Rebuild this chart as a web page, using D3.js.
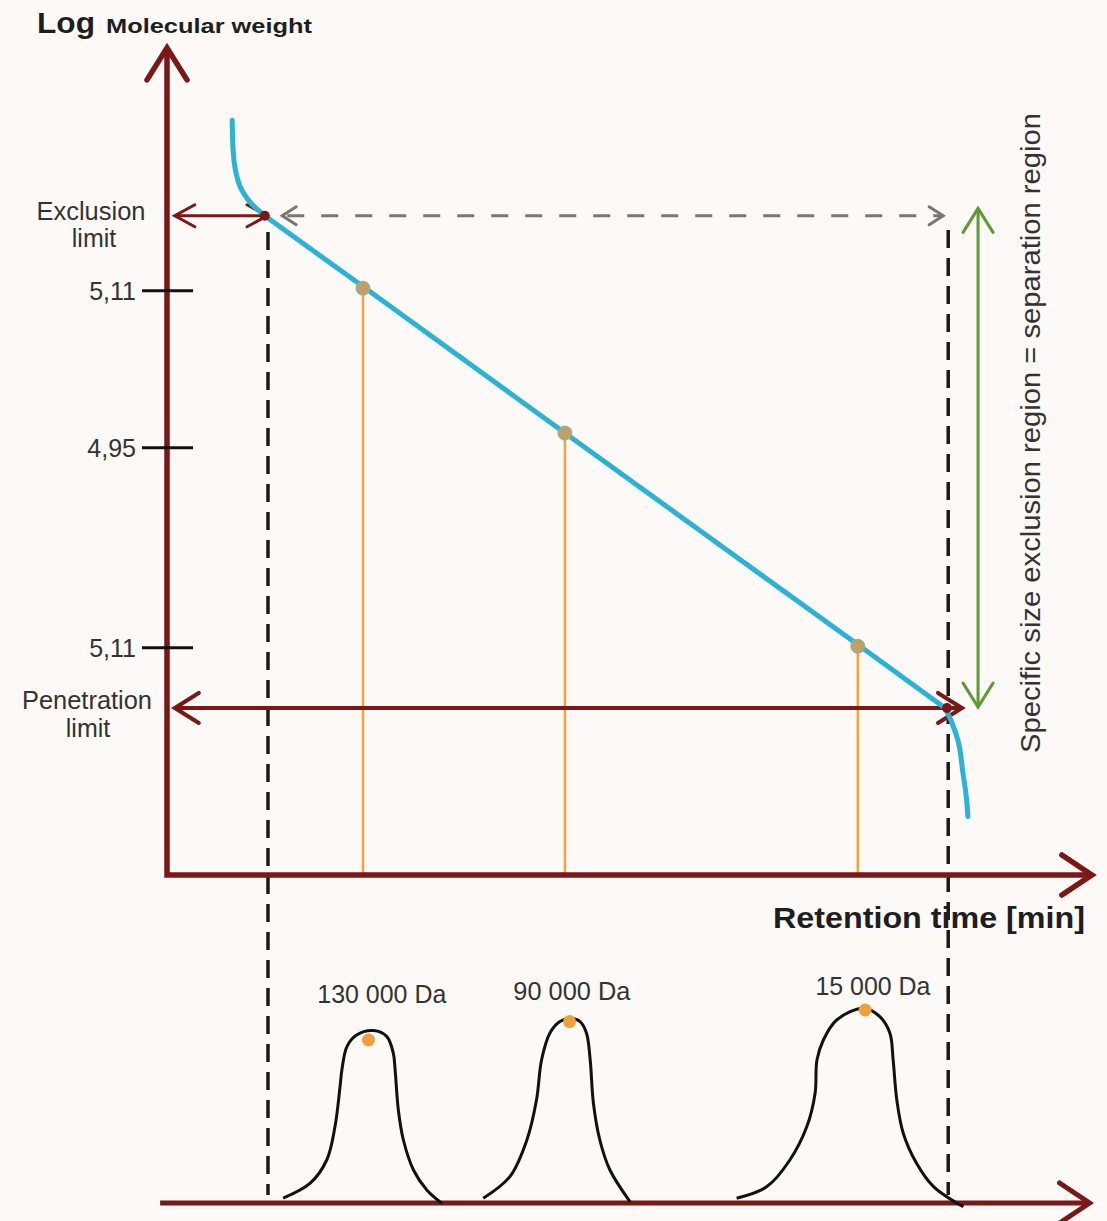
<!DOCTYPE html>
<html>
<head>
<meta charset="utf-8">
<script src="https://cdn.jsdelivr.net/npm/d3@7"></script>
<style>
  html, body { margin: 0; padding: 0; background: #fcf9f7; }
  svg { display: block; }
  text { font-family: "Liberation Sans", Arial, sans-serif; }
</style>
</head>
<body>
<svg id="chart" width="1107" height="1221"></svg>
<script>
// ---------- DATA ----------
// Calibration curve: retention time (arbitrary min) vs log molecular weight (arbitrary units)
const calibX = [1.42, 1.44, 1.50, 1.63, 1.85, 2.13, 2.90, 4.27, 8.67, 15.10, 16.95, 17.10, 17.23, 17.34, 17.41, 17.45];
const calibY = [9.17, 8.81, 8.54, 8.32, 8.15, 8.01, 7.70, 7.15, 5.37, 2.78, 2.03, 1.85, 1.64, 1.24, 0.97, 0.71];
const exclusionIndex = 5;    // start of linear (separation) region
const penetrationIndex = 10; // end of linear (separation) region

// Standards placed on the calibration line
const sampleX = [4.27, 8.67, 15.05];
const sampleY = [7.13, 5.37, 2.78];
const sampleLabels = ["130 000 Da", "90 000 Da", "15 000 Da"];

// Y ticks (labels as printed in the figure)
const tickValues = [7.10, 5.19, 2.76];
const tickLabels = ["5,11", "4,95", "5,11"];

// Limits
const exclusionLimit = { x: 2.13, y: 8.01 };
const penetrationLimit = { x: 16.95, y: 2.03 };
const boundaryX = [2.20, 17.02];

// Chromatogram peaks (retention time, detector signal 0-100)
const peak1X = [2.53, 3.12, 3.48, 3.66, 3.77, 3.81, 3.92, 4.13, 4.50, 4.79, 4.93, 4.97, 5.04, 5.15, 5.37, 5.66, 5.99];
const peak1Y = [0.9, 8.4, 20, 36.7, 56.7, 65, 76.7, 82.5, 84.7, 81.7, 73.4, 65, 45, 30, 15, 5, -1.7];
const peak2X = [6.89, 7.47, 7.84, 8.05, 8.16, 8.34, 8.56, 8.78, 9.00, 9.14, 9.22, 9.29, 9.43, 9.65, 10.09];
const peak2Y = [0.9, 11.7, 30, 50, 70, 83.4, 89.2, 90.9, 89.2, 83.4, 70, 48.4, 30, 15, -0.9];
const peak3X = [12.41, 13.07, 13.57, 13.94, 14.12, 14.16, 14.30, 14.59, 15.17, 15.53, 15.75, 15.82, 15.90, 16.04, 16.33, 16.70, 17.35];
const peak3Y = [0.9, 6.7, 20, 36.7, 53.4, 70, 80, 90, 95.9, 91.7, 83.4, 70, 50, 33.4, 18.4, 6.7, -3.4];
const peakTopX = [4.39, 8.77, 15.21];
const peakTopY = [80, 89.2, 95];

// ---------- SCALES ----------
const svg = d3.select("#chart");
const x = d3.scaleLinear().domain([0, 20]).range([167, 1085]);
const y = d3.scaleLinear().domain([0, 10]).range([875, 52]);
const yc = d3.scaleLinear().domain([0, 100]).range([1200, 1000]);

const AXIS = "#7a1717";
const BLUE = "#2ab3d4";
const ORANGE = "#f7a03e";
const GREEN = "#5c9b34";

function chevron(g, tx, ty, dir, len, half, color, width) {
  let pts;
  if (dir === "up") pts = [[tx - half, ty + len], [tx, ty], [tx + half, ty + len]];
  if (dir === "down") pts = [[tx - half, ty - len], [tx, ty], [tx + half, ty - len]];
  if (dir === "left") pts = [[tx + len, ty - half], [tx, ty], [tx + len, ty + half]];
  if (dir === "right") pts = [[tx - len, ty - half], [tx, ty], [tx - len, ty + half]];
  g.append("path").attr("d", d3.line()(pts)).attr("fill", "none")
    .attr("stroke", color).attr("stroke-width", width)
    .attr("stroke-linecap", "round").attr("stroke-linejoin", "miter");
}

// ---------- ORANGE STEMS ----------
svg.append("g").selectAll("line").data(sampleX).join("line")
  .attr("x1", d => x(d)).attr("x2", d => x(d))
  .attr("y1", (d, i) => y(sampleY[i])).attr("y2", y(0))
  .attr("stroke", ORANGE).attr("stroke-width", 2.5);

// ---------- DASHED BOUNDARIES ----------
svg.append("g").selectAll("line").data(boundaryX).join("line")
  .attr("x1", d => x(d)).attr("x2", d => x(d))
  .attr("y1", (d, i) => i === 0 ? 232 : 230).attr("y2", 1195)
  .attr("stroke", "#1a1a1a").attr("stroke-width", 3.5)
  .attr("stroke-dasharray", "18 10");

// ---------- MAIN AXES ----------
const axes = svg.append("g");
axes.append("path")
  .attr("d", d3.line()([[x(0), y(10.05)], [x(0), y(0)], [x(20.15), y(0)]]))
  .attr("fill", "none").attr("stroke", AXIS).attr("stroke-width", 5.5)
  .attr("stroke-linejoin", "miter");
chevron(axes, x(0), y(10.05), "up", 32, 20, AXIS, 5.5);
chevron(axes, x(20.15), y(0), "right", 30, 20, AXIS, 5.5);

// Ticks
const ticks = svg.append("g");
ticks.selectAll("line").data(tickValues).join("line")
  .attr("x1", 142).attr("x2", 193)
  .attr("y1", d => y(d)).attr("y2", d => y(d))
  .attr("stroke", "#111").attr("stroke-width", 3);
ticks.selectAll("text").data(tickValues).join("text")
  .attr("x", 136).attr("y", d => y(d) + 9)
  .attr("text-anchor", "end").attr("font-size", 25).attr("fill", "#333")
  .text((d, i) => tickLabels[i]);

// ---------- EXCLUSION LIMIT ----------
const ex = svg.append("g");
ex.append("line").attr("x1", x(0.17)).attr("x2", x(2.18))
  .attr("y1", y(exclusionLimit.y)).attr("y2", y(exclusionLimit.y))
  .attr("stroke", AXIS).attr("stroke-width", 3);
chevron(ex, x(0.17), y(exclusionLimit.y), "left", 20, 11, AXIS, 3);
chevron(ex, x(2.18), y(exclusionLimit.y), "right", 20, 11, AXIS, 3);

// Grey dashed arrow
ex.append("line").attr("x1", x(2.62)).attr("x2", x(16.88))
  .attr("y1", y(exclusionLimit.y)).attr("y2", y(exclusionLimit.y))
  .attr("stroke", "#777").attr("stroke-width", 3).attr("stroke-dasharray", "17 17");
chevron(ex, x(2.51), y(exclusionLimit.y), "left", 14, 9, "#777", 3);
chevron(ex, x(16.91), y(exclusionLimit.y), "right", 14, 9, "#777", 3);

// ---------- PENETRATION LIMIT ----------
const pe = svg.append("g");
pe.append("line").attr("x1", x(0.17)).attr("x2", x(17.32))
  .attr("y1", y(penetrationLimit.y)).attr("y2", y(penetrationLimit.y))
  .attr("stroke", AXIS).attr("stroke-width", 4);
chevron(pe, x(0.17), y(penetrationLimit.y), "left", 24, 15, AXIS, 4);
chevron(pe, x(17.32), y(penetrationLimit.y), "right", 24, 15, AXIS, 4);

// ---------- GREEN ARROW ----------
const gr = svg.append("g");
gr.append("line").attr("x1", x(17.67)).attr("x2", x(17.67))
  .attr("y1", y(8.10)).attr("y2", y(2.04))
  .attr("stroke", GREEN).attr("stroke-width", 3);
chevron(gr, x(17.67), y(8.10), "up", 24, 15, GREEN, 3);
chevron(gr, x(17.67), y(2.04), "down", 24, 15, GREEN, 3);

// ---------- CALIBRATION CURVE ----------
const calib = calibX.map((d, i) => [x(d), y(calibY[i])]);
const topPart = calib.slice(0, exclusionIndex + 1);
const midPart = calib.slice(exclusionIndex, penetrationIndex + 1);
const botPart = calib.slice(penetrationIndex);
const calibG = svg.append("g").attr("fill", "none").attr("stroke", BLUE)
  .attr("stroke-width", 5).attr("stroke-linecap", "round").attr("stroke-linejoin", "round");
calibG.append("path").attr("d", d3.line().curve(d3.curveMonotoneY)(topPart));
calibG.append("path").attr("d", d3.line()(midPart));
calibG.append("path").attr("d", d3.line().curve(d3.curveMonotoneY)(botPart));

// Points on line
svg.append("g").selectAll("circle").data(sampleX).join("circle")
  .attr("cx", d => x(d)).attr("cy", (d, i) => y(sampleY[i]))
  .attr("r", 7).attr("fill", "#bda266").attr("stroke", "#8fb0a8").attr("stroke-width", 1);

// Limit dots
svg.append("circle").attr("cx", x(exclusionLimit.x)).attr("cy", y(exclusionLimit.y))
  .attr("r", 5).attr("fill", AXIS);
svg.append("circle").attr("cx", x(penetrationLimit.x) + 2).attr("cy", y(penetrationLimit.y))
  .attr("r", 5).attr("fill", AXIS);

// ---------- LABELS ----------
const lab = svg.append("g").attr("fill", "#333").attr("font-size", 25);
lab.append("text").attr("x", 91).attr("y", 220).attr("text-anchor", "middle")
  .attr("textLength", 109).attr("lengthAdjust", "spacingAndGlyphs").text("Exclusion");
lab.append("text").attr("x", 94).attr("y", 247).attr("text-anchor", "middle").text("limit");
lab.append("text").attr("x", 87).attr("y", 709).attr("text-anchor", "middle")
  .attr("textLength", 130).attr("lengthAdjust", "spacingAndGlyphs").text("Penetration");
lab.append("text").attr("x", 88).attr("y", 737).attr("text-anchor", "middle").text("limit");

// Title
svg.append("text").attr("x", 37).attr("y", 33).attr("fill", "#1e1e1e").attr("font-weight", "bold")
  .attr("font-size", 30).attr("textLength", 58).attr("lengthAdjust", "spacingAndGlyphs").text("Log");
svg.append("text").attr("x", 106).attr("y", 33).attr("fill", "#1e1e1e").attr("font-weight", "bold")
  .attr("font-size", 20).attr("textLength", 206).attr("lengthAdjust", "spacingAndGlyphs")
  .text("Molecular weight");

// X title
svg.append("text").attr("x", 773).attr("y", 928).attr("fill", "#1e1e1e")
  .attr("font-weight", "bold").attr("font-size", 29)
  .attr("textLength", 312).attr("lengthAdjust", "spacingAndGlyphs")
  .text("Retention time [min]");

// Vertical text
svg.append("text")
  .attr("transform", "translate(1040,433) rotate(-90)")
  .attr("text-anchor", "middle").attr("fill", "#333").attr("font-size", 28)
  .attr("textLength", 640).attr("lengthAdjust", "spacingAndGlyphs")
  .text("Specific size exclusion region = separation region");

// ---------- CHROMATOGRAM ----------
const chrom = svg.append("g");
chrom.append("line").attr("x1", x(-0.15)).attr("x2", x(20.1))
  .attr("y1", yc(-1.5)).attr("y2", yc(-1.5))
  .attr("stroke", AXIS).attr("stroke-width", 5);
chevron(chrom, x(20.1), yc(-1.5), "right", 30, 20, AXIS, 5);

const peaks = [[peak1X, peak1Y], [peak2X, peak2Y], [peak3X, peak3Y]];
const peakLine = d3.line().curve(d3.curveCatmullRom.alpha(0.5));
chrom.selectAll("path.peak").data(peaks).join("path")
  .attr("class", "peak")
  .attr("d", p => peakLine(p[0].map((d, i) => [x(d), yc(p[1][i])])))
  .attr("fill", "none").attr("stroke", "#111").attr("stroke-width", 3);

chrom.selectAll("circle").data(peakTopX).join("circle")
  .attr("cx", d => x(d)).attr("cy", (d, i) => yc(peakTopY[i]))
  .attr("r", 6.5).attr("fill", "#f0a03a");

const labelX = [4.68, 8.82, 15.38];
const labelY = [98.5, 100, 102.5];
chrom.selectAll("text").data(sampleLabels).join("text")
  .attr("x", (d, i) => x(labelX[i])).attr("y", (d, i) => yc(labelY[i]))
  .attr("text-anchor", "middle").attr("font-size", 25).attr("fill", "#333")
  .attr("textLength", (d, i) => [129, 117, 115][i]).attr("lengthAdjust", "spacingAndGlyphs")
  .text(d => d);
</script>
</body>
</html>
